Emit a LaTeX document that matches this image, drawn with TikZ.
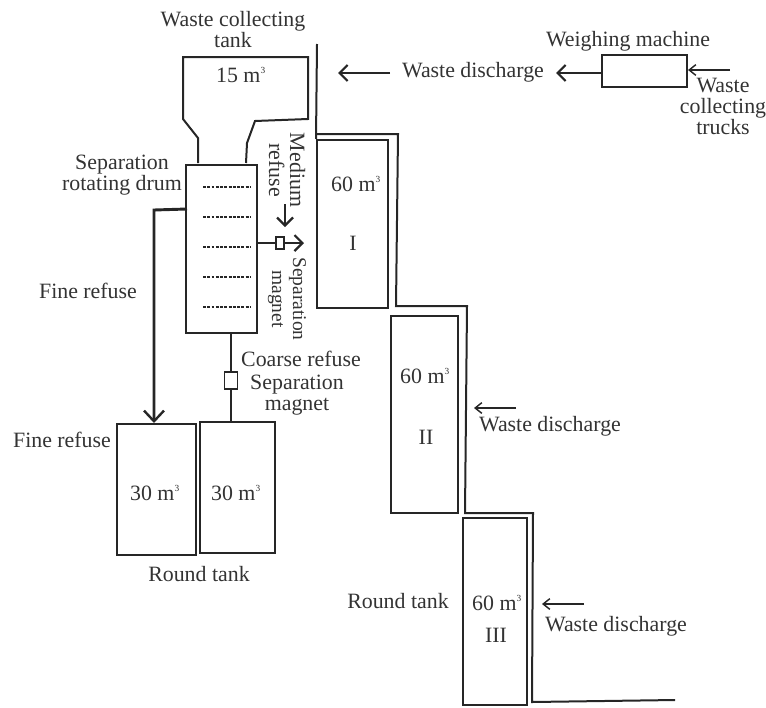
\documentclass[tikz,border=0pt]{standalone}
\usepackage{fontspec}
\setmainfont{Liberation Serif}
\usetikzlibrary{arrows.meta}
\definecolor{ink}{HTML}{262626}
\definecolor{txt}{HTML}{333333}
\newcommand{\cubic}{m\textsuperscript{\fontsize{7}{7}\selectfont 3}}
\lineskiplimit=-100pt
\tikzset{
  lbl/.style={text=txt,font=\fontsize{16.4}{15.75}\selectfont,align=center,inner sep=0pt},
  vol/.style={lbl},
  narrow lbl/.style={lbl,font=\fontsize{14.6}{15.75}\selectfont},
  box/.style={draw=ink,line width=1.5pt,inner sep=0pt},
  wall/.style={draw=ink,line width=1.5pt,line join=miter},
  thin line/.style={draw=ink,line width=1.2pt},
  flow/.style={draw=ink,line width=1.3pt,-{Straight Barb[length=6pt,width=12pt,line width=1.6pt]}},
  small flow/.style={draw=ink,line width=1.1pt,-{Straight Barb[length=5pt,width=8pt,line width=1.1pt]}},
  heavy flow/.style={draw=ink,line width=2.2pt,-{Straight Barb[length=8pt,width=15pt,line width=1.8pt]}},
  gauge/.style={draw=ink,line width=1pt,dash pattern=on 2.2pt off 1pt}
}
\begin{document}
\begin{tikzpicture}[x=0.75pt,y=-0.75pt]
\useasboundingbox (0,0) rectangle (766,707);
% boxes
\node[box,minimum width=53.5pt,minimum height=126pt] (drum) at (221.5,248.5) {};
\node[box,minimum width=53.25pt,minimum height=126pt] (t1) at (352.5,224) {};
\node[box,minimum width=50.25pt,minimum height=147.75pt] (t2) at (424.5,414.5) {};
\node[box,minimum width=48pt,minimum height=140.25pt] (t3) at (495,611.5) {};
\node[box,minimum width=59.25pt,minimum height=98.25pt] (r1) at (156.5,489.5) {};
\node[box,minimum width=56.25pt,minimum height=98.25pt] (r2) at (237.5,487.5) {};
\node[box,minimum width=63.75pt,minimum height=24pt] (weigh) at (644.5,71) {};
\node[box,line width=1.2pt,minimum width=10pt,minimum height=12.75pt] (magA) at (231,380.5) {};
\node[box,line width=1.2pt,minimum width=6pt,minimum height=9pt] (magB) at (280,243) {};
% collecting tank
\draw[wall] (198,163) -- (198,138) -- (183,119) -- (183,57) -- (308,57) -- (308,119) -- (255,121) -- (247,143) -- (246,163);
% walls
\coordinate (w1) at (317,44);
\coordinate (w2) at (316.5,134);
\coordinate (w3) at (398,134);
\coordinate (w4) at (396,306);
\coordinate (w5) at (467,306);
\coordinate (w6) at (465,513);
\coordinate (w7) at (533,513);
\coordinate (w8) at (532,702);
\coordinate (w9) at (675,700);
\draw[wall] (w2) -- (w3) -- (w4) -- (w5) -- (w6) -- (w7) -- (w8) -- (w9);
\draw[wall] (w1) -- (t1.north west);
% drum gauges
\foreach \n/\y in {1/187,2/217,3/247,4/277,5/307}{
  \coordinate (gl\n) at (203,\y);
  \coordinate (gr\n) at (250,\y);
  \draw[gauge] (gl\n) -- (gr\n);
}
% drum connectors
\coordinate (df) at (187,209);
\coordinate (fc) at (154,210);
\draw[heavy flow] (df) -- (fc) -- (r1.north -| fc);
\coordinate (ma) at (drum.east |- magB);
\draw[thin line] (ma) -- (magB.west);
\coordinate (mb) at (304,243);
\draw[flow] (magB.east) -- (mb);
\coordinate (m1) at (285,204);
\coordinate (m2) at (285,227);
\draw[flow] (m1) -- (m2);
\draw[thin line] (magA.north |- drum.south) -- (magA.north);
\draw[thin line] (magA.south) -- (magA.south |- r2.north);
% discharge arrows
\coordinate (a1s) at (390,73); \coordinate (a1e) at (338,73);
\draw[flow] (a1s) -- (a1e);
\coordinate (a2e) at (556,73);
\draw[flow] (weigh.west |- a2e) -- (a2e);
\coordinate (a3s) at (730,70);
\draw[small flow] (a3s) -- (weigh.east |- a3s);
\coordinate (a4s) at (516,408); \coordinate (a4e) at (474,408);
\draw[small flow] (a4s) -- (a4e);
\coordinate (a5s) at (584,604); \coordinate (a5e) at (542,604);
\draw[small flow] (a5s) -- (a5e);
% labels
\node[lbl] (l1) at (233,30) {Waste collecting\\tank};
\node[vol] (l2) at (241,75) {15 \cubic};
\node[lbl] (l3) at (473,72) {Waste discharge};
\node[lbl] (l4) at (628,41) {Weighing machine};
\node[lbl] (l5) at (723,106) {Waste\\collecting\\trucks};
\node[lbl,rotate=-90] (l6) at (287,170) {Medium\\refuse};
\node[narrow lbl,rotate=-90] (l7) at (287,299) {Separation\\magnet};
\node[lbl] (l8) at (122,175) {Separation\\rotating drum};
\node[lbl] (l9) at (88,291) {Fine refuse};
\node[lbl] (l10) at (301,359) {Coarse refuse};
\node[lbl] (l11) at (297,395) {Separation\\magnet};
\node[lbl] (l12) at (62,440) {Fine refuse};
\node[vol] (l13) at (155,493) {30 \cubic};
\node[vol] (l14) at (236,493) {30 \cubic};
\node[lbl] (l15) at (199,574) {Round tank};
\node[vol] (l16) at (356,184) {60 \cubic};
\node[lbl] (l17) at (353,243) {I};
\node[vol] (l18) at (425,376) {60 \cubic};
\node[lbl] (l19) at (426,437) {II};
\node[lbl] (l20) at (550,426) {Waste discharge};
\node[lbl] (l21) at (398,601) {Round tank};
\node[vol] (l22) at (497,603) {60 \cubic};
\node[lbl] (l23) at (496,635) {III};
\node[lbl] (l24) at (616,626) {Waste discharge};
\end{tikzpicture}
\end{document}
